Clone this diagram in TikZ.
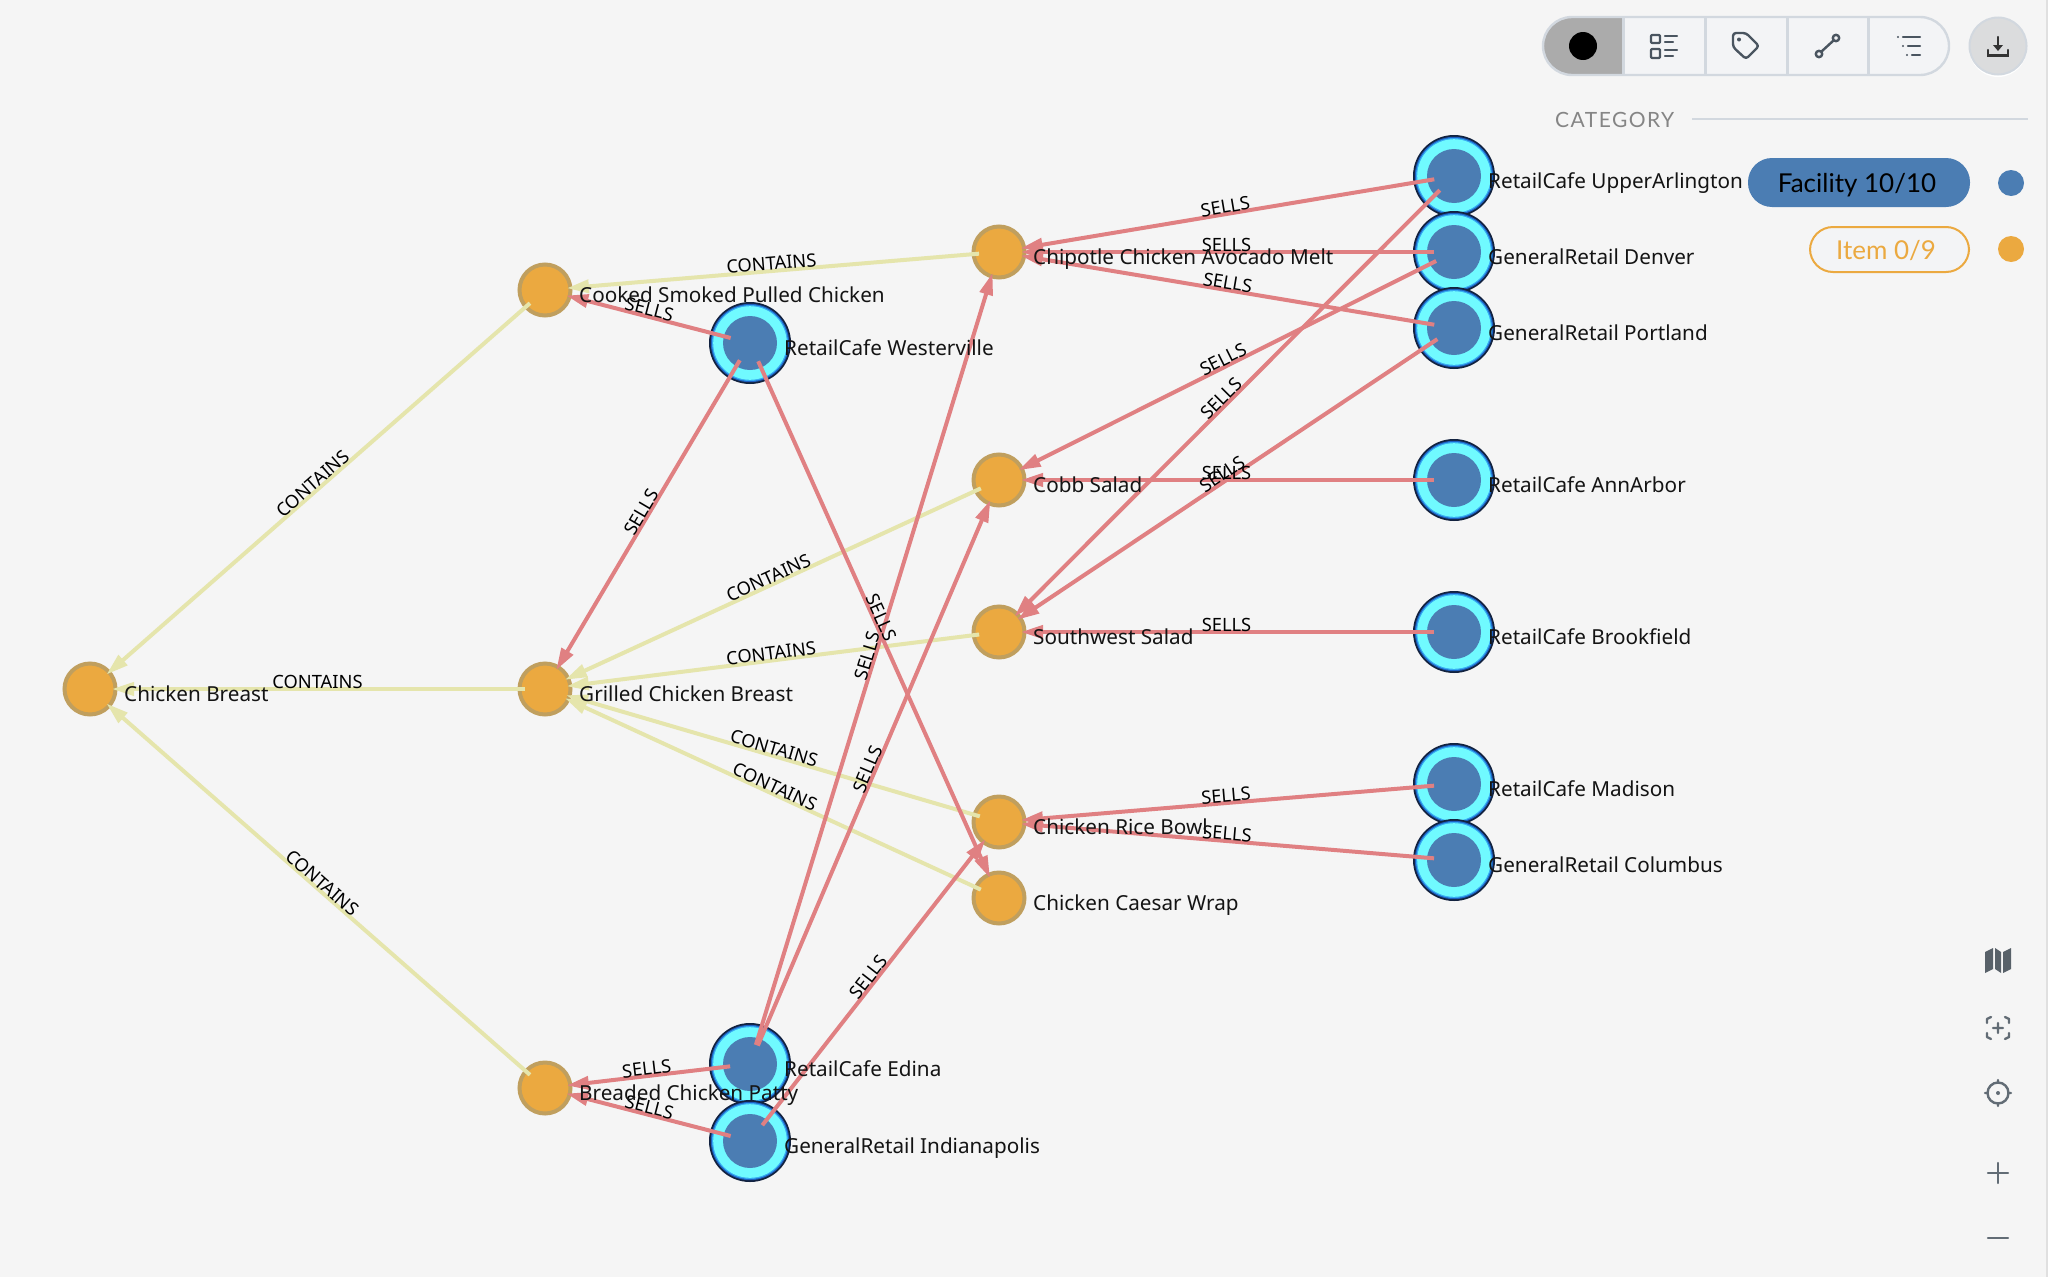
\documentclass[tikz,border=0pt]{standalone}
\usepackage{fontspec}
\setmainfont{Noto Sans}
\newfontfamily\uifont{Lato}
\newfontfamily\uispaced[LetterSpace=7]{Lato}
\usetikzlibrary{arrows.meta}
\definecolor{bgc}{HTML}{F5F5F5}
\definecolor{sellc}{HTML}{E08082}
\definecolor{contc}{HTML}{E5E5AC}
\definecolor{itemc}{HTML}{EBA940}
\definecolor{itemb}{HTML}{C09F5E}
\definecolor{facc}{HTML}{4B7DB3}
\definecolor{cyanc}{HTML}{70FAFF}
\definecolor{ringa}{HTML}{12223F}
\definecolor{ringb}{HTML}{1C5FC0}
\definecolor{ringc}{HTML}{35ABF2}
\definecolor{uib}{HTML}{D2D8DF}
\definecolor{uif}{HTML}{F3F4F6}
\definecolor{icon}{HTML}{4A5560}
\definecolor{icong}{HTML}{626C75}
\tikzset{
  itemnode/.style={circle,draw=itemb,fill=itemc,line width=4pt,minimum size=51pt,inner sep=0pt},
  facnode/.style={circle,fill=facc,minimum size=54pt,inner sep=0pt},
  sells/.style={draw=sellc,line width=4pt,-{Triangle[length=22pt,width=13pt]},shorten >=22pt,shorten <=20pt},
  contains/.style={draw=contc,line width=4pt,-{Triangle[length=22pt,width=13pt]},shorten >=22pt,shorten <=20pt},
  elabel/.style={midway,sloped,above,inner sep=0.5pt,font=\fontsize{18.3}{20}\selectfont,text=black},
  nlabel/.style={anchor=base west,inner sep=0pt,font=\fontsize{20.7}{24}\selectfont,text=black!92},
  uiline/.style={draw=icon,line width=2.4pt,line cap=round,line join=round},
  rightline/.style={draw=icong,line width=2.4pt,line cap=round,line join=round},
}
\begin{document}
\begin{tikzpicture}[x=1pt,y=-1pt]
\useasboundingbox (0,0) rectangle (2048,1277);
\fill[bgc] (0,0) rectangle (2048,1277);
\fill[black!12] (2046,0) rectangle (2048,1277);
% item nodes
\foreach \n/\x/\y in {breast/90/689,cooked/545/290,grilled/545/689,breaded/545/1088,chipotle/999/252,cobb/999/480,southwest/999/632,rice/999/822,caesar/999/898}{
  \node[itemnode] (\n) at (\x,\y) {};
}
% facility nodes
\foreach \n/\x/\y in {westerville/750/343,edina/750/1064,indy/750/1141,upper/1454/176,denver/1454/252,portland/1454/328,annarbor/1454/480,brookfield/1454/632,madison/1454/784,columbus/1454/860}{
  \fill[ringa] (\x,\y) circle (41);
  \fill[ringb] (\x,\y) circle (39.2);
  \fill[ringc] (\x,\y) circle (38);
  \fill[cyanc] (\x,\y) circle (36.8);
  \node[facnode] (\n) at (\x,\y) {};
}
% connectors
\foreach \a/\b in {cooked/breast,grilled/breast,breaded/breast,chipotle/cooked,cobb/grilled,southwest/grilled,rice/grilled,caesar/grilled}{
  \draw[contains] (\a.center) -- (\b.center);
}
\foreach \a/\b in {westerville/cooked,westerville/grilled,westerville/caesar,edina/breaded,indy/breaded,edina/chipotle,edina/cobb,indy/rice,upper/chipotle,denver/chipotle,portland/chipotle,denver/cobb,annarbor/cobb,upper/southwest,portland/southwest,brookfield/southwest,madison/rice,columbus/rice}{
  \draw[sells] (\a.center) -- (\b.center);
}
% connector labels
\foreach \a/\b in {cooked/breast,grilled/breast,breaded/breast,chipotle/cooked,cobb/grilled,southwest/grilled,rice/grilled,caesar/grilled}{
  \path (\a.center) -- node[elabel] {CONTAINS} (\b.center);
}
\foreach \a/\b in {westerville/cooked,westerville/grilled,westerville/caesar,edina/breaded,indy/breaded,edina/chipotle,edina/cobb,indy/rice,upper/chipotle,denver/chipotle,portland/chipotle,denver/cobb,annarbor/cobb,upper/southwest,portland/southwest,brookfield/southwest,madison/rice,columbus/rice}{
  \path (\a.center) -- node[elabel] {SELLS} (\b.center);
}
% node labels
\foreach \n/\t in {breast/Chicken Breast,cooked/Cooked Smoked Pulled Chicken,grilled/Grilled Chicken Breast,breaded/Breaded Chicken Patty,chipotle/Chipotle Chicken Avocado Melt,cobb/Cobb Salad,southwest/Southwest Salad,rice/Chicken Rice Bowl,caesar/Chicken Caesar Wrap,westerville/RetailCafe Westerville,edina/RetailCafe Edina,indy/GeneralRetail Indianapolis,upper/RetailCafe UpperArlington,denver/GeneralRetail Denver,portland/GeneralRetail Portland,annarbor/RetailCafe AnnArbor,brookfield/RetailCafe Brookfield,madison/RetailCafe Madison,columbus/GeneralRetail Columbus}{
  \node[nlabel] (t\n) at ([xshift=34pt,yshift=-12pt]\n.center) {\t};
}
% toolbar
\begin{scope}
  \clip[rounded corners=29pt] (1543,17) rectangle (1949,75);
  \fill[uif] (1543,17) rectangle (1949,75);
  \fill[black!33] (1543,17) rectangle (1623,75);
\end{scope}
\foreach \x in {1623,1705,1787,1868}{ \draw[uib,line width=3pt] (\x,17) -- (\x,75); }
\draw[uib,line width=2.4pt,rounded corners=29pt] (1543,17) rectangle (1949,75);
\fill[black] (1583,46) circle (14);
% list icon
\draw[uiline,rounded corners=1pt,line width=2.2pt] (1651,35) rectangle (1660,43);
\draw[uiline,rounded corners=1pt,line width=2.2pt] (1651,49) rectangle (1660,58);
\draw[uiline] (1665,36) -- (1677,36) (1665,42) -- (1673,42) (1665,50) -- (1677,50) (1665,56) -- (1673,56);
% tag icon
\draw[uiline,rounded corners=3pt] (1733,33) -- (1746,33) -- (1759,46) -- (1746,59) -- (1733,47) -- cycle;
\fill[icon] (1739,39.5) circle (2);
% edge icon
\draw[uiline] (1819,54) circle (3.2) (1836,38) circle (3.2) (1821.5,51.5) -- (1833.5,40.5);
% filter icon
\draw[uiline] (1903,37) -- (1920,37) (1908,46) -- (1920,46) (1912,55) -- (1920,55);
\fill[icon] (1898,37) circle (1.1) (1903,46) circle (1.1) (1907,55) circle (1.1);
% download
\fill[white] (1998,48) circle (29);
\filldraw[fill=black!10!uif,draw=uib,line width=2pt] (1998,46) circle (28.5);
\draw[draw=black!80,line width=2.4pt,line cap=round] (1998,37) -- (1998,49) (1988,50) -- (1988,55.5) -- (2008,55.5) -- (2008,50);
\fill[black!80] (1993,45) -- (2003,45) -- (1998,51) -- cycle;
% legend
\node[anchor=west,inner sep=0pt,text=black!48,font=\uispaced\fontsize{21}{24}\selectfont] (cat) at (1555,120) {CATEGORY};
\coordinate (catend) at (2028,119);
\draw[uib,line width=2pt] (1692,119) -- (catend);
\fill[facc,rounded corners=24pt] (1748,158) rectangle (1970,207);
\node[inner sep=0pt,text=black,font=\uifont\fontsize{26}{30}\selectfont] (fac) at (1857,185) {Facility 10/10};
\node[draw=itemc,fill=uif,line width=2pt,rounded corners=23pt,minimum width=159pt,minimum height=45pt,inner sep=0pt] (itmbox) at (1889.5,249.5) {};
\node[inner sep=0pt,text=itemc,font=\uifont\fontsize{26}{30}\selectfont] (itm) at (1886,251) {Item 0/9};
\fill[facc] (2011,183) circle (13);
\fill[itemc] (2011,249) circle (13);
% right icons
\fill[icong!90!black] (1985,952) -- (1993,948) -- (1993,969) -- (1985,973) -- cycle;
\fill[icong!90!black] (1995,948) -- (2001,952) -- (2001,973) -- (1995,969) -- cycle;
\fill[icong!90!black] (2003,952) -- (2011,948) -- (2011,969) -- (2003,973) -- cycle;
\draw[rightline] (1987,1023) -- (1987,1019) -- (1991,1017) (2005,1017) -- (2009,1019) -- (2009,1023) (1987,1033) -- (1987,1037) -- (1991,1039) (2005,1039) -- (2009,1037) -- (2009,1033) (1993,1028) -- (2003,1028) (1998,1023) -- (1998,1033);
\draw[rightline] (1998,1093) circle (10.5) (1998,1080) -- (1998,1083) (1998,1103) -- (1998,1106) (1985,1093) -- (1988,1093) (2008,1093) -- (2011,1093);
\fill[icong] (1998,1093) circle (2);
\draw[rightline] (1988,1173) -- (2008,1173) (1998,1163) -- (1998,1183);
\draw[rightline] (1988,1238) -- (2008,1238);
\end{tikzpicture}
\end{document}
